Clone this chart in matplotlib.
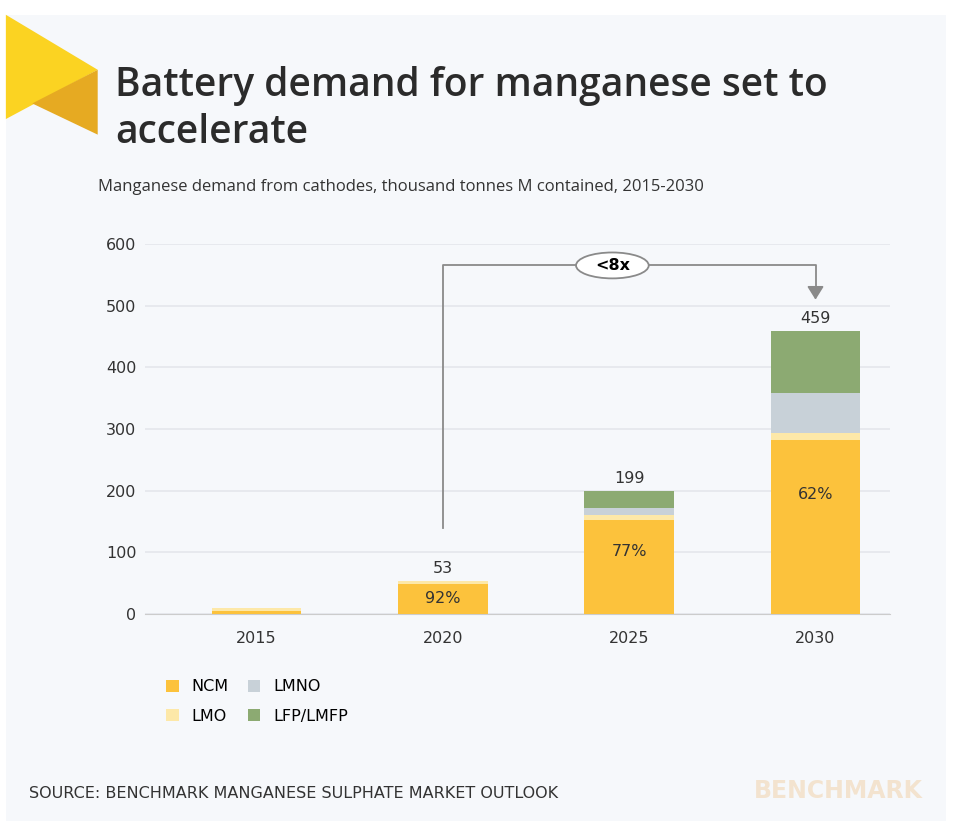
import matplotlib.pyplot as plt
import matplotlib.patches as mpatches
import numpy as np

years = ['2015', '2020', '2025', '2030']
ncm = [5, 49, 152, 282]
lmo = [5, 4, 8, 11]
lmno = [0, 0, 12, 65]
lfp = [0, 0, 27, 101]
totals = ['', '53', '199', '459']
shares = ['', '92%', '77%', '62%']

c_ncm, c_lmo, c_lmno, c_lfp = '#fcc23c', '#fde8a8', '#c8d1d8', '#8caa72'
bg = '#f6f8fb'

fig = plt.figure(figsize=(9.77, 8.21), dpi=100)
fig.patch.set_facecolor('white')
fig.add_artist(mpatches.Rectangle((0.006, 0), 0.962, 0.982, transform=fig.transFigure,
                                  facecolor=bg, edgecolor='none', zorder=-5))
# logo triangles
fig.add_artist(mpatches.Polygon([[0.006, 0.982], [0.1, 0.915], [0.006, 0.855]],
                                transform=fig.transFigure, facecolor='#fbd322', zorder=1))
fig.add_artist(mpatches.Polygon([[0.1, 0.915], [0.1, 0.836], [0.033, 0.874]],
                                transform=fig.transFigure, facecolor='#e6aa22', zorder=1))

fig.text(0.118, 0.895, 'Battery demand for manganese set to', fontsize=28, fontweight='semibold',
         color='#2b2b2b', va='center', family='Open Sans')
fig.text(0.118, 0.838, 'accelerate', fontsize=28, fontweight='semibold',
         color='#2b2b2b', va='center', family='Open Sans')
fig.text(0.1, 0.772, 'Manganese demand from cathodes, thousand tonnes M contained, 2015-2030',
         fontsize=12, color='#333333', va='center', family='Open Sans')

ax = fig.add_axes([0.148, 0.252, 0.763, 0.451])
ax.set_facecolor(bg)
x = np.arange(len(years))
w = 0.48
b1 = np.array(ncm)
b2 = b1 + np.array(lmo)
b3 = b2 + np.array(lmno)
ax.bar(x, ncm, w, color=c_ncm, label='NCM', zorder=3)
ax.bar(x, lmo, w, bottom=b1, color=c_lmo, label='LMO', zorder=3)
ax.bar(x, lmno, w, bottom=b2, color=c_lmno, label='LMNO', zorder=3)
ax.bar(x, lfp, w, bottom=b3, color=c_lfp, label='LFP/LMFP', zorder=3)
tot = b3 + np.array(lfp)
for i in range(len(years)):
    if totals[i]:
        ax.text(x[i], tot[i] + 8, totals[i], ha='center', va='bottom', fontsize=11.5, color='#333333')
        ax.text(x[i], ncm[i] * 0.5 if i == 1 else ncm[i] * 0.67 if i == 2 else ncm[i] * 0.69,
                shares[i], ha='center', va='center', fontsize=11.5, color='#333333')

ax.set_ylim(0, 600)
ax.set_xlim(-0.6, 3.4)
ax.set_yticks(range(0, 601, 100))
ax.set_xticks(x, years)
ax.grid(axis='y', color='#e4e7ec', lw=1.2, zorder=0)
for s in ['top', 'right', 'left']:
    ax.spines[s].set_visible(False)
ax.spines['bottom'].set_color('#cccccc')
ax.tick_params(length=0, labelsize=11.5, colors='#333333')
ax.tick_params(axis='x', pad=12)
ax.tick_params(axis='y', pad=6)

# annotation
ax.plot([1, 1, 3, 3], [140, 565, 565, 520], color='#8a8a8a', lw=1.3, zorder=4)
ax.annotate('', xy=(3, 505), xytext=(3, 525),
            arrowprops=dict(arrowstyle='-|>,head_width=0.5,head_length=0.8', color='#8a8a8a', lw=1.3))
ax.add_patch(mpatches.Ellipse((1.91, 565), 0.39, 42, facecolor='white', edgecolor='#8a8a8a',
                              lw=1.3, zorder=5))
ax.text(1.91, 565, '<8x', ha='center', va='center', fontsize=11.5, fontweight='bold', zorder=6)

fig.legend(ncol=2, loc='upper left', bbox_to_anchor=(0.155, 0.19), frameon=False, fontsize=11.5,
           handlelength=0.8, handleheight=0.8, columnspacing=1.2, labelspacing=0.9)

fig.text(0.03, 0.034, 'SOURCE: BENCHMARK MANGANESE SULPHATE MARKET OUTLOOK', fontsize=11.5,
         color='#333333', va='center')
fig.text(0.945, 0.036, 'BENCHMARK', fontsize=17, fontweight='bold', color='#f3e3cf',
         ha='right', va='center')

fig.savefig('out.png', dpi=100, facecolor='white')
